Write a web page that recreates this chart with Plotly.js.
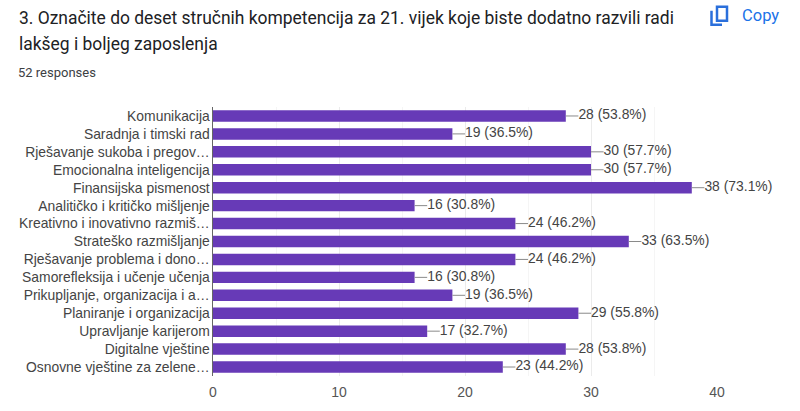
<!DOCTYPE html>
<html><head><meta charset="utf-8">
<script src="https://cdn.plot.ly/plotly-3.0.1.min.js"></script>
<style>html,body{margin:0;padding:0;background:#fff}</style></head>
<body><div id="chart" style="width:800px;height:411px"></div>
<script>
const categories = ["Komunikacija","Saradnja i timski rad","Rješavanje sukoba i pregov…","Emocionalna inteligencija","Finansijska pismenost","Analitičko i kritičko mišljenje","Kreativno i inovativno razmiš…","Strateško razmišljanje","Rješavanje problema i dono…","Samorefleksija i učenje učenja","Prikupljanje, organizacija i a…","Planiranje i organizacija","Upravljanje karijerom","Digitalne vještine","Osnovne vještine za zelene…"];
const counts = [28,19,30,30,38,16,24,33,24,16,19,29,17,28,23];
const percents = ["53.8","36.5","57.7","57.7","73.1","30.8","46.2","63.5","46.2","30.8","36.5","55.8","32.7","53.8","44.2"];
const tickValues = [0,10,20,30,40];
const titleLine1 = "3. Označite do deset stručnih kompetencija za 21. vijek koje biste dodatno razvili radi";
const titleLine2 = "lakšeg i boljeg zaposlenja";
const subtitle = "52 responses";
const leader = 1;
const W=800,H=411,L=213,R=717,T=106.5,B=376;
const X=x=>(x-L)/(R-L),Y=y=>(B-y)/(B-T);
const sans='"Liberation Sans",Arial,sans-serif', rb='Roboto,sans-serif';
const bar = {type:'bar',orientation:'h',y:categories,x:counts,
  marker:{color:'#673ab7',line:{width:0}},hoverinfo:'skip',
  error_x:{type:'data',symmetric:false,array:counts.map(()=>leader),arrayminus:counts.map(()=>0),color:'#8a8a8a',thickness:1,width:0}};
const labels = {type:'scatter',mode:'text',y:categories,x:counts.map(c=>c+leader),
  text:counts.map((c,i)=>`${c} (${percents[i]}%)`),textposition:'middle right',
  textfont:{family:sans,size:13.9,color:'#444444'},hoverinfo:'skip',cliponaxis:false};
const note=(t,x,y,size,color)=>({text:t,xref:'paper',yref:'paper',x:X(x),y:Y(y),
  xanchor:'left',yanchor:'middle',showarrow:false,font:{size,color,family:rb}});
const layout={width:W,height:H,margin:{l:L,r:W-R,t:T,b:H-B},paper_bgcolor:'#fff',plot_bgcolor:'#fff',showlegend:false,bargap:0.36,
  xaxis:{range:[0,40],tickvals:tickValues,ticks:'',ticklabelstandoff:6,showgrid:true,gridcolor:'#ebebeb',gridwidth:1,zeroline:false,showline:false,
    minor:{dtick:5,showgrid:true,gridcolor:'#f5f5f5',gridwidth:1},
    tickfont:{family:sans,size:14,color:'#555555'}},
  yaxis:{categoryorder:'array',categoryarray:categories,autorange:false,range:[14.5,-0.5],showgrid:false,zeroline:false,showline:true,linecolor:'#666666',linewidth:1.5,ticks:'',ticklabelstandoff:-1,
    automargin:false,tickfont:{family:sans,size:13.9,color:'#444444'}},
  annotations:[
    note(titleLine1,17,17,17.45,'#202124'),
    note(titleLine2,17,43,17.45,'#202124'),
    note(subtitle,16,72,13,'#3c4043'),
    note('Copy',739.5,15,16.5,'#1a73e8')
  ],
  shapes:[
   {type:'path',xref:'paper',yref:'paper',line:{color:'#2a6fdb',width:2.5},fillcolor:'rgba(0,0,0,0)',
    path:`M ${X(717)} ${Y(6)} L ${X(727)} ${Y(6)} L ${X(727)} ${Y(20)} L ${X(717)} ${Y(20)} Z`},
   {type:'path',xref:'paper',yref:'paper',line:{color:'#2a6fdb',width:2.5},fillcolor:'rgba(0,0,0,0)',
    path:`M ${X(711.5)} ${Y(10)} L ${X(711.5)} ${Y(24)} L ${X(722)} ${Y(24)}`}
  ]};
Plotly.newPlot('chart',[bar,labels],layout,{displayModeBar:false,staticPlot:true});
</script></body></html>
